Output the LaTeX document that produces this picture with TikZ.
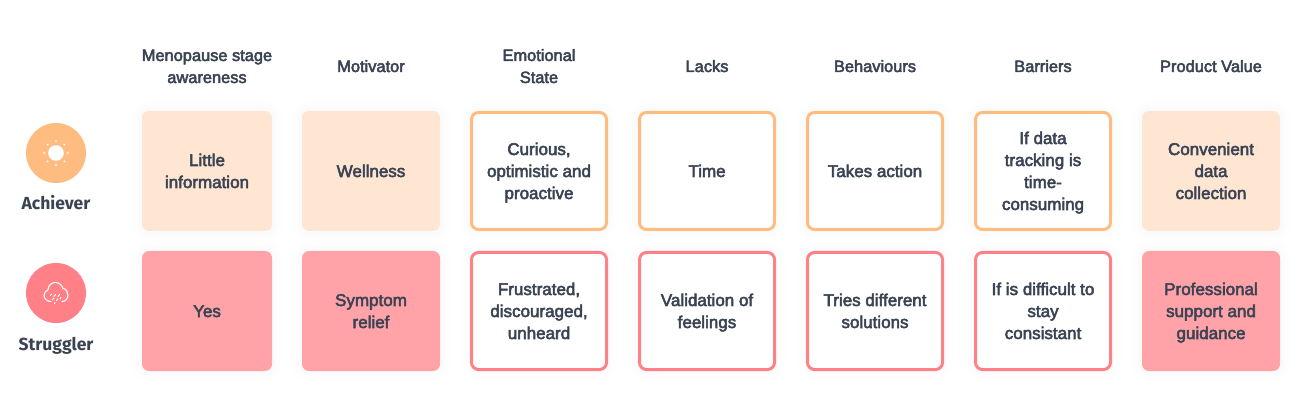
\documentclass[tikz,border=0pt]{standalone}
\usepackage{fontspec}
\setmainfont{Liberation Sans}[FakeBold=3]
\newfontfamily\rolefont{Fira Sans}[UprightFont=* Bold]
\newcommand{\ls}{\rule[-4pt]{0pt}{20pt}}
\definecolor{ink}{HTML}{3A4353}
\definecolor{amber}{HTML}{FFBC80}
\definecolor{amberpale}{HTML}{FFE6D3}
\definecolor{coral}{HTML}{FF8086}
\definecolor{coralpale}{HTML}{FFA3A8}
\tikzset{
  struts/.style={execute at end node=\ls},
  softshadow/.style={
    preaction={draw=black,line width=22pt,opacity=.004},
    preaction={draw=black,line width=15pt,opacity=.005},
    preaction={draw=black,line width=8pt,opacity=.006}},
  card/.style={rectangle,rounded corners=7pt,align=center,text=ink,inner sep=0pt,struts,
    font=\fontsize{17}{22}\selectfont,softshadow},
  solid card/.style={card,draw=none,minimum height=120pt},
  line card/.style={card,fill=white,line width=3pt,minimum width=135pt,minimum height=117pt},
  amberfill/.style={solid card,fill=amberpale},
  coralfill/.style={solid card,fill=coralpale},
  amberline/.style={line card,draw=amber},
  coralline/.style={line card,draw=coral},
  header/.style={align=center,text=ink,inner sep=0pt,struts,font=\fontsize{16.4}{22}\selectfont},
  rolelabel/.style={text=ink,inner sep=0pt,struts,font=\fontsize{17.5}{20}\selectfont\rolefont},
  badge/.style={circle,minimum size=60pt,inner sep=0pt,draw=none},
  iconline/.style={draw=white,line width=1.1pt,line cap=round,line join=round}
}
\begin{document}
\begin{tikzpicture}[x=1pt,y=-1pt]
\useasboundingbox[fill=white] (0,0) rectangle (1300,411);
% headers
\node[header] (h1) at (207,66) {\ls Menopause stage\\awareness};
\node[header] (h2) at (371,66) {Motivator};
\node[header] (h3) at (539,66) {\ls Emotional\\State};
\node[header] (h4) at (707,66) {Lacks};
\node[header] (h5) at (875,66) {Behaviours};
\node[header] (h6) at (1043,66) {Barriers};
\node[header] (h7) at (1211,66) {Product Value};
% row 1
\node[amberfill,minimum width=130pt] (a1) at (207,171) {\ls Little\\information};
\node[amberfill,minimum width=138pt] (a2) at (371,171) {Wellness};
\node[amberline] (a3) at (539,171) {\ls Curious,\\optimistic and\\proactive};
\node[amberline] (a4) at (707,171) {Time};
\node[amberline] (a5) at (875,171) {Takes action};
\node[amberline] (a6) at (1043,171) {\ls If data\\tracking is\\time-\\consuming};
\node[amberfill,minimum width=138pt] (a7) at (1211,171) {\ls Convenient\\data\\collection};
% row 2
\node[coralfill,minimum width=130pt] (s1) at (207,311) {Yes};
\node[coralfill,minimum width=138pt] (s2) at (371,311) {\ls Symptom\\relief};
\node[coralline] (s3) at (539,311) {\ls Frustrated,\\discouraged,\\unheard};
\node[coralline] (s4) at (707,311) {\ls Validation of\\feelings};
\node[coralline] (s5) at (875,311) {\ls Tries different\\solutions};
\node[coralline] (s6) at (1043,311) {\ls If is difficult to\\stay\\consistant};
\node[coralfill,minimum width=138pt] (s7) at (1211,311) {\ls Professional\\support and\\guidance};
% roles
\node[badge,fill=amber] (achiever) at (56,153) {};
\node[rolelabel] (achieverlabel) at (56,204) {Achiever};
\node[badge,fill=coral] (struggler) at (56,293) {};
\node[rolelabel] (strugglerlabel) at (56,344) {Struggler};
% sun icon
\fill[white] (achiever.center) circle (7.8pt);
\foreach \a in {0,45,...,315}
  \fill[white] (achiever.center) ++(\a:11.8) circle (1.05pt);
% cloud icon
\begin{scope}[shift={(struggler.center)}]
  \draw[iconline] (-5,8.5) .. controls (-9,8.5) and (-12,5.5) .. (-12,2.5)
    .. controls (-12,-.5) and (-10,-2.5) .. (-8,-3)
    .. controls (-8,-7.5) and (-4.5,-10.5) .. (-1,-10.5)
    .. controls (3,-10.5) and (6,-8) .. (7,-4.5)
    .. controls (10,-4.5) and (12,-1) .. (12,2)
    .. controls (12,5.5) and (9.5,8.5) .. (6,8.5);
  \draw[iconline,line width=.9pt] (-4.5,1) -- (-5.5,2.5) (-2,5) -- (-3.5,7);
  \draw[iconline,line width=.9pt] (-.5,1.5) -- (-2,3.5) (1.5,6) -- (.5,7.5) (-1,9.5) -- (-1.5,10.5);
  \draw[iconline,line width=.9pt] (3.5,1.5) -- (2,3.5) (5,4.5) -- (4,6);
\end{scope}
\end{tikzpicture}
\end{document}
